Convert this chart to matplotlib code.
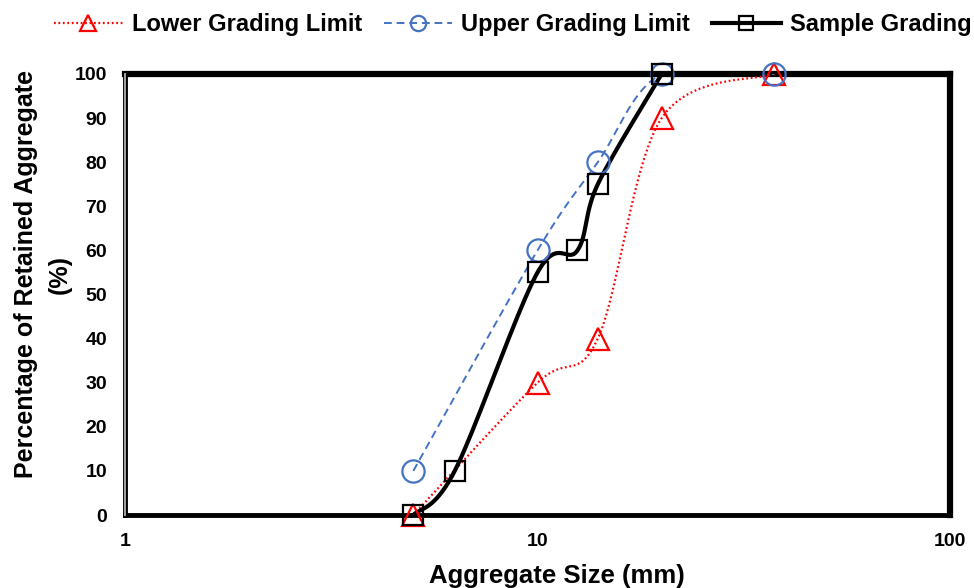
import numpy as np
import matplotlib.pyplot as plt
from matplotlib.lines import Line2D

plt.rcParams['font.family'] = ['Liberation Sans', 'DejaVu Sans']
plt.rcParams['font.weight'] = 'bold'

# sieve sizes (mm) and % retained
lower_x = [5, 10, 14, 20, 37.5]
lower_y = [0, 30, 40, 90, 100]
upper_x = [5, 10, 14, 20, 37.5]
upper_y = [10, 60, 80, 100, 100]
sample_x = [5, 6.3, 10, 12.5, 14, 20]
sample_y = [0, 10, 55, 60, 75, 100]

AX_W, AX_H = 825.0, 441.0  # plot area in px, used for excel-like smoothing


def smooth(xs, ys, n=40):
    # catmull-rom style bezier in screen space, like excel "smoothed line"
    u = np.log10(np.array(xs, float)) / 2 * AX_W
    v = np.array(ys, float) / 100 * AX_H
    P = np.column_stack([u, v])
    out = [P[0]]
    for i in range(len(P) - 1):
        p0 = P[i - 1] if i > 0 else P[i]
        p1, p2 = P[i], P[i + 1]
        p3 = P[i + 2] if i + 2 < len(P) else P[i + 1]
        c1 = p1 + (p2 - p0) / 6
        c2 = p2 - (p3 - p1) / 6
        t = np.linspace(0, 1, n)[1:, None]
        seg = (1 - t) ** 3 * p1 + 3 * (1 - t) ** 2 * t * c1 + 3 * (1 - t) * t ** 2 * c2 + t ** 3 * p2
        out.extend(seg)
    out = np.array(out)
    return 10 ** (out[:, 0] / AX_W * 2), out[:, 1] / AX_H * 100


fig = plt.figure(figsize=(9.74, 5.88), dpi=100)
ax = fig.add_axes([125 / 974, 1 - 515 / 588, 825 / 974, 441 / 588])

red, blue = "#ff0000", "#4472c4"
dot = (0, (0.8, 1.2))
dash = (0, (4, 2.5))

sx, sy = smooth(lower_x, lower_y)
ax.plot(sx, sy, color=red, ls=dot, lw=1.6, zorder=3)
sx, sy = smooth(upper_x, upper_y)
ax.plot(sx, sy, color=blue, ls=dash, lw=1.4, zorder=3)
sx, sy = smooth(sample_x, sample_y)
ax.plot(sx, sy, color="black", lw=3, zorder=4, solid_capstyle="round")

ax.plot(lower_x, lower_y, ls="none", marker="^", ms=16, mfc="none", mec=red, mew=1.6, zorder=5, clip_on=False)
ax.plot(upper_x, upper_y, ls="none", marker="o", ms=16, mfc="none", mec=blue, mew=1.6, zorder=5, clip_on=False)
ax.plot(sample_x, sample_y, ls="none", marker="s", ms=15, mfc="none", mec="black", mew=1.6, zorder=6, clip_on=False)

ax.set_xscale("log")
ax.set_xlim(1, 100)
ax.set_ylim(0, 100)
ax.set_xticks([1, 10, 100])
ax.set_xticklabels(["1", "10", "100"])
ax.set_yticks(range(0, 101, 10))
ax.minorticks_off()
ax.tick_params(length=0, labelsize=14, pad=13)
for lab in ax.get_xticklabels() + ax.get_yticklabels():
    lab.set_fontweight("bold")

# frame: top/right heavy black, left/bottom double line
ax.spines["top"].set_linewidth(4.5)
ax.spines["right"].set_linewidth(4.5)
for s in ["left", "bottom"]:
    ax.spines[s].set_linewidth(3.5)
    ax.spines[s].set_color("black")
ax.axvline(1, color="#a6a6a6", lw=1.4, zorder=7, clip_on=False)
ax.axhline(0, color="#a6a6a6", lw=1.4, zorder=2, clip_on=False)

fig.text(557 / 974, 1 - 583 / 588, "Aggregate Size (mm)", fontsize=18.5, fontweight="bold",
         ha="center", va="baseline")
fig.text(43 / 974, 1 - 274 / 588, "Percentage of Retained Aggregate\n(%)", fontsize=18,
         fontweight="bold", rotation=90, ha="center", va="center", multialignment="center",
         linespacing=1.55)

handles = [
    Line2D([], [], color=red, ls=dot, lw=1.6, marker="^", ms=11, mfc="none", mec=red, mew=1.6),
    Line2D([], [], color=blue, ls=dash, lw=1.4, marker="o", ms=11, mfc="none", mec=blue, mew=1.6),
    Line2D([], [], color="black", lw=3, marker="s", ms=10, mfc="none", mec="black", mew=1.6),
]
fig.legend(handles, ["Lower Grading Limit", "Upper Grading Limit", "Sample Grading"],
           loc="center left", bbox_to_anchor=(33 / 974, 1 - 25 / 588), ncol=3, frameon=False,
           prop={"size": 17, "weight": "bold"}, handlelength=2.9, columnspacing=0.93,
           handletextpad=0.38, borderpad=0.4)

fig.savefig("out.png", dpi=100)
